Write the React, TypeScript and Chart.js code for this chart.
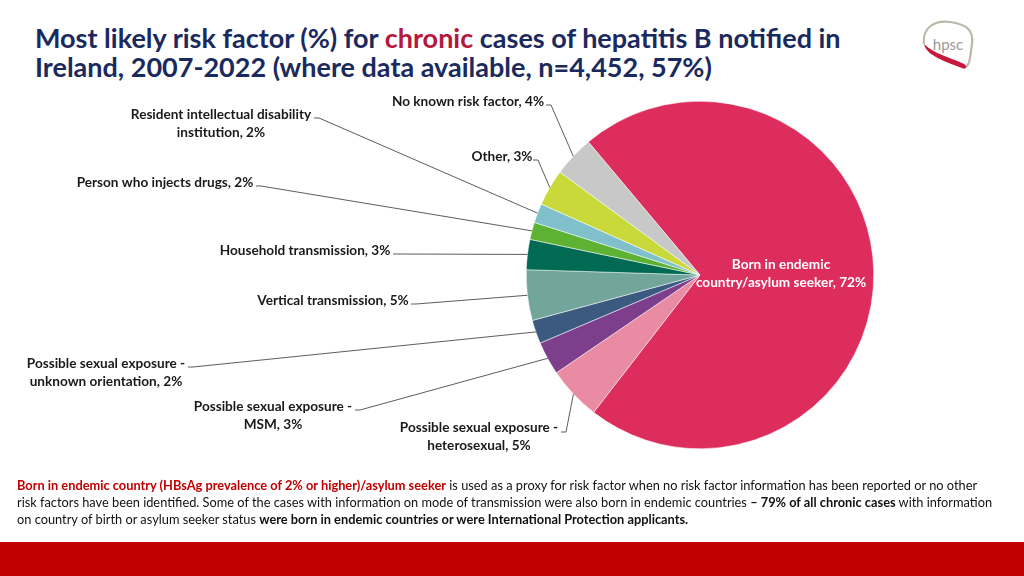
import React, { useEffect, useRef } from "react";
import { Chart, registerables } from "chart.js";

Chart.register(...registerables);

// ---- Data ----
const categories = [
  "Born in endemic country/asylum seeker",
  "Possible sexual exposure - heterosexual",
  "Possible sexual exposure - MSM",
  "Possible sexual exposure - unknown orientation",
  "Vertical transmission",
  "Household transmission",
  "Person who injects drugs",
  "Resident intellectual disability institution",
  "Other",
  "No known risk factor",
];
const values = [71.6, 5.0, 3.1, 2.2, 4.7, 2.8, 1.6, 1.8, 3.4, 3.8];
const percentLabels = ["72%", "5%", "3%", "2%", "5%", "3%", "2%", "2%", "3%", "4%"];
// label text split into display lines (percentage appended to the last line)
const labelLines = [
  ["Born in endemic", "country/asylum seeker"],
  ["Possible sexual exposure -", "heterosexual"],
  ["Possible sexual exposure -", "MSM"],
  ["Possible sexual exposure -", "unknown orientation"],
  ["Vertical transmission"],
  ["Household transmission"],
  ["Person who injects drugs"],
  ["Resident intellectual disability", "institution"],
  ["Other"],
  ["No known risk factor"],
];
const colors = [
  "#dc2d5c",
  "#e98ba2",
  "#7d3f8c",
  "#3c5a80",
  "#72a69c",
  "#006b52",
  "#5db234",
  "#80c0cb",
  "#c9d93a",
  "#c8c8c8",
];

// ---- Label layout (positions of label text blocks and leader-line anchors) ----
type LabelPos = { cx: number; y: number; inside?: boolean; ax?: number; ay?: number };
const labelLayout: LabelPos[] = [
  { cx: 781, y: 265, inside: true },
  { cx: 479, y: 428, ax: 561, ay: 432 },
  { cx: 273, y: 407, ax: 355, ay: 410 },
  { cx: 106, y: 364, ax: 188, ay: 367 },
  { cx: 333, y: 301, ax: 411, ay: 304 },
  { cx: 305, y: 251, ax: 393, ay: 254 },
  { cx: 165, y: 183, ax: 256, ay: 186 },
  { cx: 221, y: 115, ax: 314, ay: 118 },
  { cx: 502, y: 157, ax: 533, ay: 160 },
  { cx: 468, y: 102, ax: 546, ay: 105 },
];

const LABEL_FONT = "bold 13.6px Lato, 'Open Sans', sans-serif";
const LINE_H = 18;

const labelPlugin = {
  id: "pieLabels",
  afterDatasetsDraw(chart: any) {
    const ctx = chart.ctx as CanvasRenderingContext2D;
    const meta = chart.getDatasetMeta(0);
    ctx.save();
    ctx.font = LABEL_FONT;
    ctx.textBaseline = "middle";
    ctx.textAlign = "center";
    meta.data.forEach((arc: any, i: number) => {
      const p = arc.getProps(["startAngle", "endAngle", "outerRadius", "x", "y"], true);
      const mid = (p.startAngle + p.endAngle) / 2;
      const ex = p.x + Math.cos(mid) * p.outerRadius;
      const ey = p.y + Math.sin(mid) * p.outerRadius;
      const lay = labelLayout[i];
      const lines = labelLines[i].slice();
      lines[lines.length - 1] = lines[lines.length - 1] + ", " + percentLabels[i];
      if (lay.inside) {
        ctx.fillStyle = "#ffffff";
      } else {
        ctx.fillStyle = "#1a1a1a";
        ctx.strokeStyle = "#333333";
        ctx.lineWidth = 0.8;
        ctx.beginPath();
        ctx.moveTo(ex, ey);
        ctx.lineTo((lay.ax as number) + 5, lay.ay as number);
        ctx.lineTo(lay.ax as number, lay.ay as number);
        ctx.stroke();
      }
      lines.forEach((t, k) => {
        ctx.fillText(t, lay.cx, lay.y + k * LINE_H);
      });
    });
    ctx.restore();
  },
};

function PieChart() {
  const ref = useRef<HTMLCanvasElement | null>(null);
  useEffect(() => {
    if (!ref.current) return;
    const chart = new Chart(ref.current, {
      type: "pie",
      data: {
        labels: categories,
        datasets: [
          {
            data: values,
            backgroundColor: colors,
            borderColor: "#ffffff",
            borderWidth: 0.5,
          },
        ],
      },
      options: {
        responsive: false,
        animation: false,
        rotation: -40,
        layout: { padding: { left: 526, right: 150, top: 101, bottom: 127 } },
        plugins: {
          legend: { display: false },
          tooltip: { enabled: false },
        },
      },
      plugins: [labelPlugin],
    });
    return () => chart.destroy();
  }, []);
  return (
    <canvas
      ref={ref}
      width={1024}
      height={576}
      style={{ position: "absolute", left: 0, top: 0, width: 1024, height: 576 }}
    />
  );
}

function Logo() {
  return (
    <svg
      width={70}
      height={60}
      viewBox="0 0 70 60"
      style={{ position: "absolute", left: 912, top: 14 }}
    >
      <path
        d="M12 30 C 10 14, 22 6, 38 8 C 52 10, 62 14, 60 30 C 58 44, 58 52, 52 54"
        fill="none"
        stroke="#b9b9a8"
        strokeWidth={2.2}
      />
      <path
        d="M12 30 C 14 40, 28 46, 50 54 C 54 56, 56 52, 52 50 C 40 44, 22 40, 12 30 Z"
        fill="#c8183c"
      />
      <text
        x={36}
        y={36}
        textAnchor="middle"
        fontFamily="Lato, 'Open Sans', sans-serif"
        fontSize={15}
        fill="#9a9a9a"
      >
        hpsc
      </text>
    </svg>
  );
}

export default function App() {
  return (
    <div
      style={{
        position: "fixed",
        left: 0,
        top: 0,
        width: 1024,
        height: 576,
        overflow: "hidden",
        background: "#ffffff",
        fontFamily: "Lato, 'Open Sans', sans-serif",
      }}
    >
      <div
        style={{
          position: "absolute",
          left: 35,
          top: 23,
          fontSize: 27,
          fontWeight: 700,
          lineHeight: "29px",
          color: "#1b2a5e",
          whiteSpace: "nowrap",
        }}
      >
        Most likely risk factor (%) for <span style={{ color: "#b5173d" }}>chronic</span> cases of
        hepatitis B notified in
        <br />
        Ireland, 2007-2022 (where data available, n=4,452, 57%)
      </div>
      <Logo />
      <PieChart />
      <div
        style={{
          position: "absolute",
          left: 17,
          top: 477,
          fontSize: 12.8,
          lineHeight: "17px",
          color: "#111111",
          whiteSpace: "nowrap",
        }}
      >
        <span style={{ color: "#c00000", fontWeight: 700 }}>
          Born in endemic country (HBsAg prevalence of 2% or higher)/asylum seeker
        </span>{" "}
        is used as a proxy for risk factor when no risk factor information has been reported or no other
        <br />
        risk factors have been identified. Some of the cases with information on mode of transmission were
        also born in endemic countries <b>– 79% of all chronic cases</b> with information
        <br />
        on country of birth or asylum seeker status{" "}
        <b>were born in endemic countries or were International Protection applicants.</b>
      </div>
      <div
        style={{
          position: "absolute",
          left: 0,
          top: 542,
          width: 1024,
          height: 34,
          background: "#c00000",
        }}
      />
    </div>
  );
}
